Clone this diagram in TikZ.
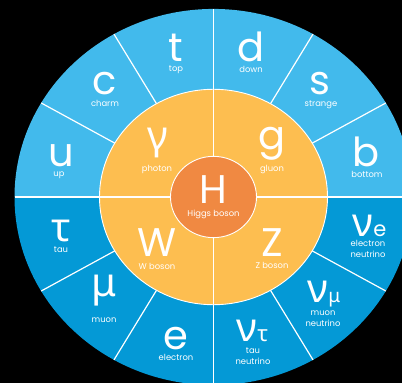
\documentclass[tikz,border=0pt]{standalone}
\usepackage{fontspec}
\setmainfont{Poppins}
\newfontfamily\grk{Noto Sans}
\definecolor{lblue}{RGB}{66,186,236}
\definecolor{dblue}{RGB}{4,153,214}
\definecolor{gold}{RGB}{253,190,80}
\definecolor{horange}{RGB}{240,137,66}
\tikzset{
  big/.style={text=white, anchor=base, inner sep=0pt, text depth=0pt, font=\fontsize{40}{40}\selectfont},
  lbl/.style={text=white, anchor=base, inner sep=0pt, text height=6pt, text depth=1.5pt, font=\fontsize{8.4}{10}\selectfont},
  sepline/.style={draw=white, line width=1.2pt},
  ring/.style={draw=white, line width=0.9pt}
}
\begin{document}
\begin{tikzpicture}[x=1pt,y=1pt]
\fill[black] (0,0) rectangle (402,383);
\useasboundingbox (0,0) rectangle (402,383);
\begin{scope}[shift={(213.5,186)}, yscale=0.945]
  \fill[lblue] (0:199) arc[start angle=0, end angle=180, radius=199] -- cycle;
  \fill[dblue] (180:199) arc[start angle=180, end angle=360, radius=199] -- cycle;
  \foreach \a in {30,60,90,120,150,210,240,270,300,330}
    \draw[sepline] (\a:114) -- (\a:199);
  \draw[sepline] (180:199) -- (0:199);
  \filldraw[fill=gold, ring] (0,0) circle[radius=114];
  \draw[sepline] (180:114) -- (0:114) (90:114) -- (270:114);
  \filldraw[fill=horange, ring] (0,0) circle[radius=43];
\end{scope}
% quarks
\node[big] (t) at (176,321) {t};
\node[lbl] (tl) at (176,311.3) {top};
\node[big] (d) at (251,321) {d};
\node[lbl] (dl) at (251,310.7) {down};
\node[big] (c) at (105,288) {c};
\node[lbl] (cl) at (105,276.3) {charm};
\node[big] (s) at (320,288) {s};
\node[lbl] (sl) at (321,276.3) {strange};
\node[big] (u) at (61,216) {u};
\node[lbl] (ul) at (59,206.3) {up};
\node[big] (b) at (366,216) {b};
\node[lbl] (bl) at (367,205.3) {bottom};
% bosons
\node[big] (gam) at (158,233) {\grk γ};
\node[lbl] (gaml) at (157,211.3) {photon};
\node[big] (g) at (272,233) {g};
\node[lbl] (gl) at (272,211.3) {gluon};
\node[big] (H) at (213.5,179) {H};
\node[lbl] (Hl) at (213.5,166.3) {Higgs boson};
\node[big] (W) at (157,126) {W};
\node[lbl] (Wl) at (157,113) {W boson};
\node[big] (Z) at (272,126) {Z};
\node[lbl] (Zl) at (272,114.3) {Z boson};
% leptons
\node[big] (tau) at (61,141) {\grk τ};
\node[lbl] (taul) at (61,130.7) {tau};
\node[big] (mu) at (104,86) {\grk μ};
\node[lbl] (mul) at (104,60.7) {muon};
\node[big] (e) at (176,33) {e};
\node[lbl] (el) at (176,22.3) {electron};
\node[big] (nutau) at (252.5,41) {{\grk ν}{\grk\fontsize{22}{22}\selectfont τ}};
\node[lbl] (nutaul1) at (253,29) {tau};
\node[lbl] (nutaul2) at (253,18.7) {neutrino};
\node[big] (numu) at (324,80) {{\grk ν}{\grk\fontsize{19}{19}\selectfont μ}};
\node[lbl] (numul1) at (323,67) {muon};
\node[lbl] (numul2) at (323,56.7) {neutrino};
\node[big] (nue) at (369.5,146) {{\grk ν}{\fontsize{21}{21}\selectfont e}};
\node[lbl] (nuel1) at (368,136.3) {electron};
\node[lbl] (nuel2) at (368,125.7) {neutrino};
\end{tikzpicture}
\end{document}
